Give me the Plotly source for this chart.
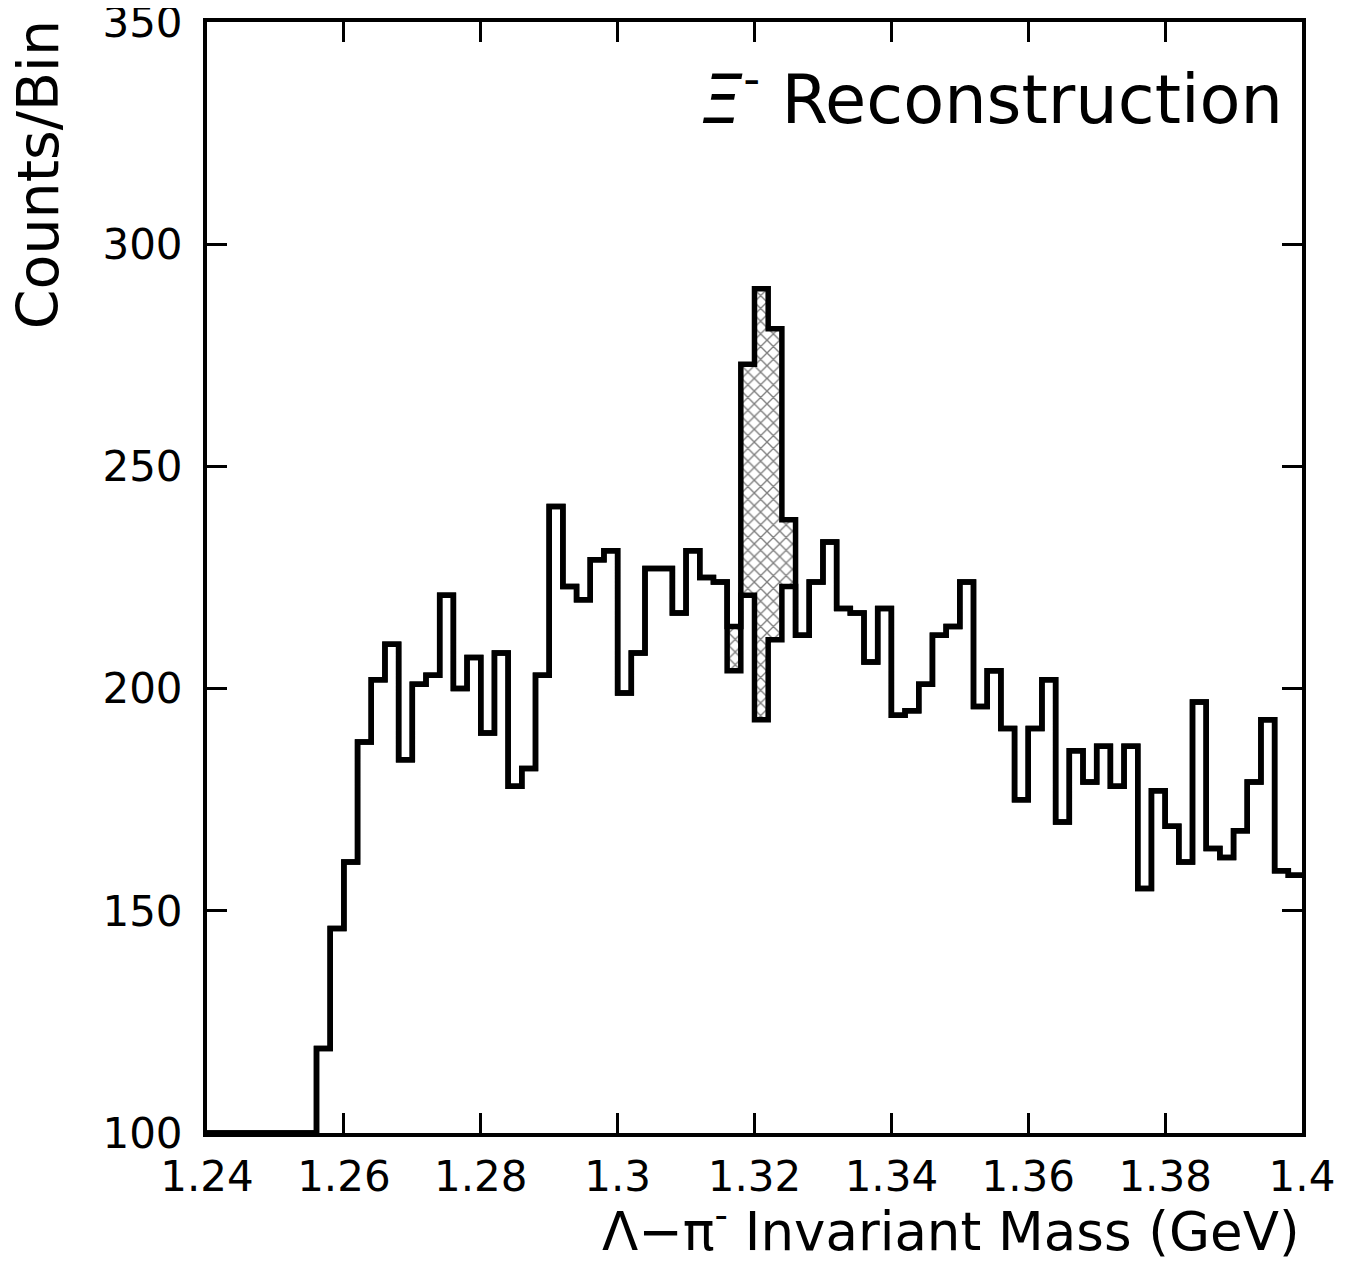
import plotly.graph_objects as go

# Bin layout (GeV)
x_start = 1.24
bin_width = 0.002

# Counts per bin (80 bins, 1.24 - 1.40); lower ("background") histogram
counts_low = [100, 100, 100, 100, 100, 100, 100, 100,
              119, 146, 161, 188, 202, 210, 184, 201, 203, 221, 200, 207,
              190, 208, 178, 182, 203, 241, 223, 220, 229, 231,
              199, 208, 227, 227, 217, 231, 225, 224, 204, 221,
              193, 211, 223, 212, 224, 233, 218, 217, 206, 218,
              194, 195, 201, 212, 214, 224, 196, 204, 191, 175,
              191, 202, 170, 186, 179, 187, 178, 187, 155, 177,
              169, 161, 197, 164, 162, 168, 179, 193, 159, 158]

# Upper histogram in the signal window (bins 38-42)
signal_bins = [38, 39, 40, 41, 42]
signal_high = [214, 273, 290, 281, 238]

counts_high = list(counts_low)
for b, v in zip(signal_bins, signal_high):
    counts_high[b] = v

n_bins = len(counts_low)
edges = [x_start + bin_width * i for i in range(n_bins + 1)]
centers = [x_start + bin_width * (i + 0.5) for i in range(n_bins)]

x_tickvals = [1.24, 1.26, 1.28, 1.30, 1.32, 1.34, 1.36, 1.38, 1.40]
x_ticktext = ["1.24", "1.26", "1.28", "1.3", "1.32", "1.34", "1.36", "1.38", "1.4"]
y_tickvals = [100, 150, 200, 250, 300, 350]
y_ticktext = ["100", "150", "200", "250", "300", "350"]

FONT = "DejaVu Sans"

fig = go.Figure()

# Hatched signal region between the two histograms
fig.add_trace(go.Bar(
    x=[centers[b] for b in signal_bins],
    y=[counts_high[b] - counts_low[b] for b in signal_bins],
    base=[counts_low[b] for b in signal_bins],
    width=bin_width,
    marker=dict(color="white", line=dict(width=0),
                pattern=dict(shape="x", fgcolor="black", bgcolor="white",
                             size=9, solidity=0.28)),
    showlegend=False, hoverinfo="skip",
))

# Histogram outlines
for vals in (counts_high, counts_low):
    fig.add_trace(go.Scatter(
        x=edges, y=vals + [vals[-1]],
        mode="lines", line=dict(shape="hv", color="black", width=5.5),
        showlegend=False, hoverinfo="skip",
    ))

fig.update_layout(
    width=1357, height=1256,
    margin=dict(l=199, r=63, t=14, b=131, autoexpand=False),
    paper_bgcolor="white", plot_bgcolor="white",
    bargap=0,
    font=dict(family=FONT, color="black"),
    xaxis=dict(range=[1.24, 1.40], tickvals=x_tickvals, ticktext=x_ticktext,
               ticks="inside", ticklen=20, tickwidth=3, tickcolor="black",
               showline=True, linewidth=4, linecolor="black", mirror="ticks",
               showgrid=False, zeroline=False, automargin=False,
               tickfont=dict(family=FONT, size=42, color="black"),
               ticklabelstandoff=4, ticklabeloverflow="allow"),
    yaxis=dict(range=[100, 350], tickvals=y_tickvals, ticktext=y_ticktext,
               ticks="inside", ticklen=20, tickwidth=3, tickcolor="black",
               showline=True, linewidth=4, linecolor="black", mirror="ticks",
               showgrid=False, zeroline=False, automargin=False,
               tickfont=dict(family=FONT, size=42, color="black"),
               ticklabelstandoff=12, ticklabeloverflow="allow"),
    annotations=[
        dict(text="<i>Ξ</i><sup>-</sup> Reconstruction", xref="paper", yref="paper",
             x=0.9845, y=0.934, xanchor="right", yanchor="middle",
             showarrow=False, font=dict(family=FONT, size=67, color="black")),
        dict(text="Λ−π<sup>-</sup> Invariant Mass (GeV)", xref="paper", yref="paper",
             x=1.0, y=-0.0855, xanchor="right", yanchor="middle",
             showarrow=False, font=dict(family=FONT, size=53, color="black")),
        dict(text="Counts/Bin", xref="paper", yref="paper",
             x=-0.1543, y=1.003, xanchor="center", yanchor="top", textangle=-90,
             showarrow=False, font=dict(family=FONT, size=57, color="black")),
    ],
)

fig.write_html("out.html")
